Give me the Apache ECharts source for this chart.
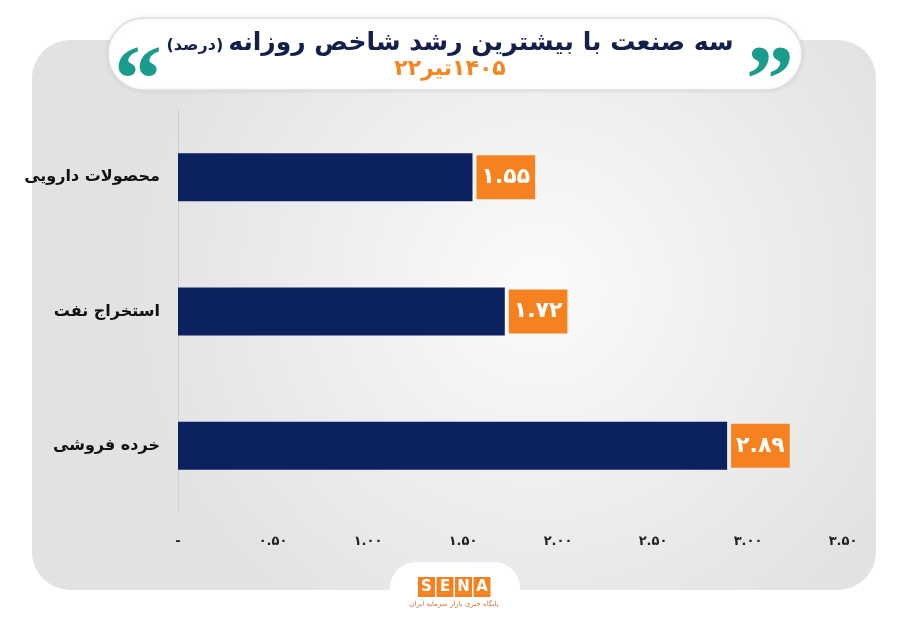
<!DOCTYPE html>
<html>
<head>
<meta charset="utf-8">
<script src="https://cdn.jsdelivr.net/npm/echarts@6/dist/echarts.min.js"></script>
<style>
  html, body { margin: 0; padding: 0; background: #fff; }
  #chart { width: 900px; height: 623px; }
</style>
</head>
<body>
<div id="chart"></div>
<script>
var categories = ['محصولات دارویی', 'استخراج نفت', 'خرده فروشی'];
var values = [1.55, 1.72, 2.89];

var titleMain = 'سه صنعت با بیشترین رشد شاخص روزانه';
var titleUnit = '(درصد)';
var subText = '۲۲\u200Eتیر\u200E۱۴۰۵';

// تبدیل ارقام به فارسی
function fa(s) {
    return String(s).replace(/[0-9]/g, function (d) { return '۰۱۲۳۴۵۶۷۸۹'[+d]; });
}

var fontFa = '"DejaVu Sans", "Noto Sans", sans-serif';
var chart = echarts.init(document.getElementById('chart'));

var senaLetters = ['S', 'E', 'N', 'A'];
var logo = [];
senaLetters.forEach(function (ch, i) {
    logo.push({
        type: 'rect', z: 5,
        shape: { x: 418 + i * 18.5, y: 577, width: 17, height: 20 },
        style: { fill: '#F58220' }
    });
    logo.push({
        type: 'text', z: 6,
        x: 426.5 + i * 18.5, y: 587,
        style: { text: ch, fill: '#fff', font: 'bold 15px "DejaVu Sans"', align: 'center', verticalAlign: 'middle' }
    });
});

option = {
    backgroundColor: '#ffffff',
    title: {
        text: '{u|' + titleUnit + '} {m|' + titleMain + '}',
        subtext: subText,
        left: 'center',
        top: 26,
        itemGap: 2,
        textStyle: {
            rich: {
                m: { fontFamily: fontFa, fontWeight: 'bold', fontSize: 25, color: '#14204a' },
                u: { fontFamily: fontFa, fontWeight: 'bold', fontSize: 16, color: '#14204a', padding: [4, 0, 0, 0] }
            }
        },
        subtextStyle: { fontFamily: fontFa, fontWeight: 'bold', fontSize: 22, color: '#F5861F' }
    },
    graphic: [
        {
            type: 'rect', z: -10,
            shape: { x: 32, y: 40, width: 844, height: 550, r: 38 },
            style: {
                fill: {
                    type: 'radial', x: 0.6, y: 0.45, r: 0.75,
                    colorStops: [{ offset: 0, color: '#fbfbfb' }, { offset: 1, color: '#e2e2e3' }]
                }
            }
        },
        {
            type: 'rect', z: -5,
            shape: { x: 108, y: 18, width: 694, height: 72, r: 36 },
            style: { fill: '#ffffff', stroke: '#dedede', lineWidth: 1.5, shadowBlur: 4, shadowColor: 'rgba(0,0,0,0.08)' }
        },
        {
            type: 'text', z: 3, x: 770, y: 86,
            style: { text: '\u201D', fill: '#1a9c8c', font: 'bold 96px "Liberation Serif"', align: 'center', verticalAlign: 'middle' }
        },
        {
            type: 'text', z: 3, x: 138, y: 86,
            style: { text: '\u201C', fill: '#1a9c8c', font: 'bold 96px "Liberation Serif"', align: 'center', verticalAlign: 'middle' }
        },
        {
            type: 'rect', z: -4,
            shape: { x: 390, y: 562, width: 130, height: 80, r: 26 },
            style: { fill: '#ffffff' }
        },
        {
            type: 'text', z: 6, x: 454, y: 604,
            style: { text: 'پایگاه خبری بازار سرمایه ایران', fill: '#c9763a', font: '7px "DejaVu Sans"', align: 'center', verticalAlign: 'middle' }
        }
    ].concat(logo),
    grid: {
        left: 178,
        right: 57,
        top: 110,
        bottom: 110,
        containLabel: false
    },
    xAxis: {
        type: 'value',
        min: 0,
        max: 3.5,
        interval: 0.5,
        axisLine: { show: false },
        axisTick: { show: false },
        splitLine: { show: false },
        axisLabel: {
            margin: 22,
            color: '#222',
            fontFamily: fontFa,
            fontWeight: 'bold',
            fontSize: 13,
            formatter: function (v) {
                return v === 0 ? '-' : fa(v.toFixed(2));
            }
        }
    },
    yAxis: {
        type: 'category',
        data: categories,
        inverse: true,
        axisLine: { show: true, lineStyle: { color: '#cfcfcf', width: 1 } },
        axisTick: { show: false },
        axisLabel: {
            margin: 18,
            color: '#111',
            fontFamily: fontFa,
            fontWeight: 'bold',
            fontSize: 16
        }
    },
    series: [
        {
            type: 'bar',
            data: values,
            barWidth: 48,
            itemStyle: { color: '#0c2160' },
            label: {
                show: true,
                position: 'right',
                distance: 4,
                backgroundColor: '#F5821F',
                color: '#ffffff',
                fontFamily: fontFa,
                fontWeight: 'bold',
                fontSize: 22,
                lineHeight: 24,
                padding: [10, 5, 10, 5],
                formatter: function (p) { return fa(p.value.toFixed(2)); }
            }
        }
    ]
};
chart.setOption(option);
</script>
</body>
</html>
